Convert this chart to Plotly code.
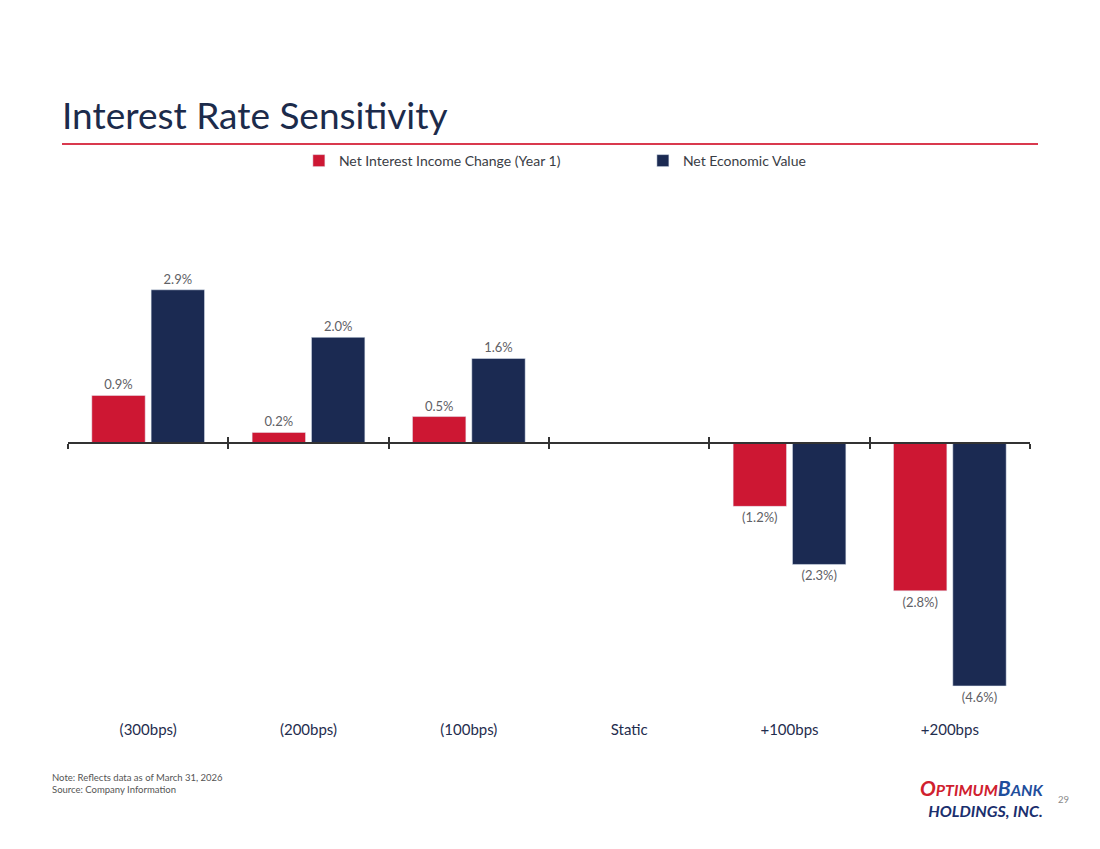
import plotly.graph_objects as go

# scenarios and values (percent)
categories = ['(300bps)', '(200bps)', '(100bps)', 'Static', '+100bps', '+200bps']
nii_change = [0.9, 0.2, 0.5, None, -1.2, -2.8]
nev_change = [2.9, 2.0, 1.6, None, -2.3, -4.6]

series_names = ['Net Interest Income Change (Year 1)', 'Net Economic Value']
RED = '#CD1733'
NAVY = '#1B2A52'
FONT = 'Lato'

# page sits 8px in from the window edge, so the figure is 8px smaller
W, H = 1092, 841
OFF = 8


def fmt(v):
    if v is None:
        return ''
    if v < 0:
        return f'({abs(v):.1f}%)'
    return f'{v:.1f}%'


y_min, y_max = -5.15, 4.6
zero_pos = (0 - y_min) / (y_max - y_min)

fig = go.Figure()
for name, vals, col in [(series_names[0], nii_change, RED), (series_names[1], nev_change, NAVY)]:
    fig.add_trace(go.Bar(
        x=categories, y=vals, name=name, marker_color=col,
        text=[fmt(v) for v in vals], textposition='outside',
        textfont=dict(family=FONT, size=13, color='#5f6166'),
        cliponaxis=False,
    ))

# invisible traces so the zero-line axes get drawn
for ax in ['x2', 'x3']:
    fig.add_trace(go.Scatter(x=categories, y=[None] * len(categories), xaxis=ax,
                             mode='markers', showlegend=False, hoverinfo='skip'))

zero_axis = dict(type='category', categoryarray=categories, range=[-0.5, 5.5],
                 overlaying='x', anchor='free', position=zero_pos,
                 showline=True, linecolor='#333333', linewidth=1.5,
                 tickson='boundaries', ticklen=5, tickwidth=1.5, tickcolor='#333333',
                 showticklabels=False, showgrid=False, zeroline=False)

# plot area spans x 68..1030, y 200..715 in window pixels
fig.update_layout(
    width=W, height=H,
    paper_bgcolor='white', plot_bgcolor='white',
    margin=dict(l=68 - OFF, r=W - (1030 - OFF), t=200 - OFF, b=H - (715 - OFF)),
    barmode='group', bargap=0.26, bargroupgap=0.1,
    title=dict(text='Interest Rate Sensitivity', x=(62 - OFF) / W, xanchor='left',
               y=1 - (116 - OFF) / H, yanchor='middle', yref='container', xref='container',
               font=dict(family=FONT, size=37, color='#1c2b4b')),
    legend=dict(orientation='h', x=0.24, xanchor='left', y=1.0757, yanchor='middle',
                entrywidth=299, entrywidthmode='pixels', itemwidth=30,
                font=dict(family=FONT, size=14, color='#3a3d45')),
    xaxis=dict(type='category', categoryarray=categories, range=[-0.5, 5.5],
               showline=False, ticks='', showgrid=False, zeroline=False,
               ticklabelstandoff=4,
               tickfont=dict(family=FONT, size=15, color='#1f2d4e')),
    xaxis2=dict(zero_axis, ticks='outside'),
    xaxis3=dict(zero_axis, ticks='inside'),
    yaxis=dict(range=[y_min, y_max], visible=False, showgrid=False, zeroline=False),
    shapes=[dict(type='line', xref='paper', yref='paper',
                 x0=(62 - 68) / 962, x1=(1038 - 68) / 962,
                 y0=(715 - 144) / 515, y1=(715 - 144) / 515,
                 line=dict(color='#d9394e', width=2))],
)

fig.add_annotation(text='Note: Reflects data as of March 31, 2026<br>Source: Company Information',
                   xref='paper', yref='paper', x=(50 - 68) / 962, y=(715 - 770) / 515,
                   xanchor='left', yanchor='top', align='left', showarrow=False,
                   font=dict(family=FONT, size=9.5, color='#555555'))
fig.add_annotation(text='29', xref='paper', yref='paper', x=(1063 - 68) / 962, y=(715 - 799) / 515,
                   xanchor='center', yanchor='middle', showarrow=False,
                   font=dict(family=FONT, size=9.5, color='#8a8a8a'))
fig.add_annotation(
    text=('<b><i><span style="color:#d0202e;font-size:21px">O</span>'
          '<span style="color:#d0202e">PTIMUM</span>'
          '<span style="color:#1f4e9c;font-size:21px">B</span>'
          '<span style="color:#1f4e9c">ANK</span><br>'
          '<span style="color:#1b2f6e">HOLDINGS, INC.</span></i></b>'),
    xref='paper', yref='paper', x=(1046 - 68) / 962, y=(715 - 797) / 515,
    xanchor='right', yanchor='middle', align='right', showarrow=False,
    font=dict(family=FONT, size=16))

fig.write_html('out.html')
